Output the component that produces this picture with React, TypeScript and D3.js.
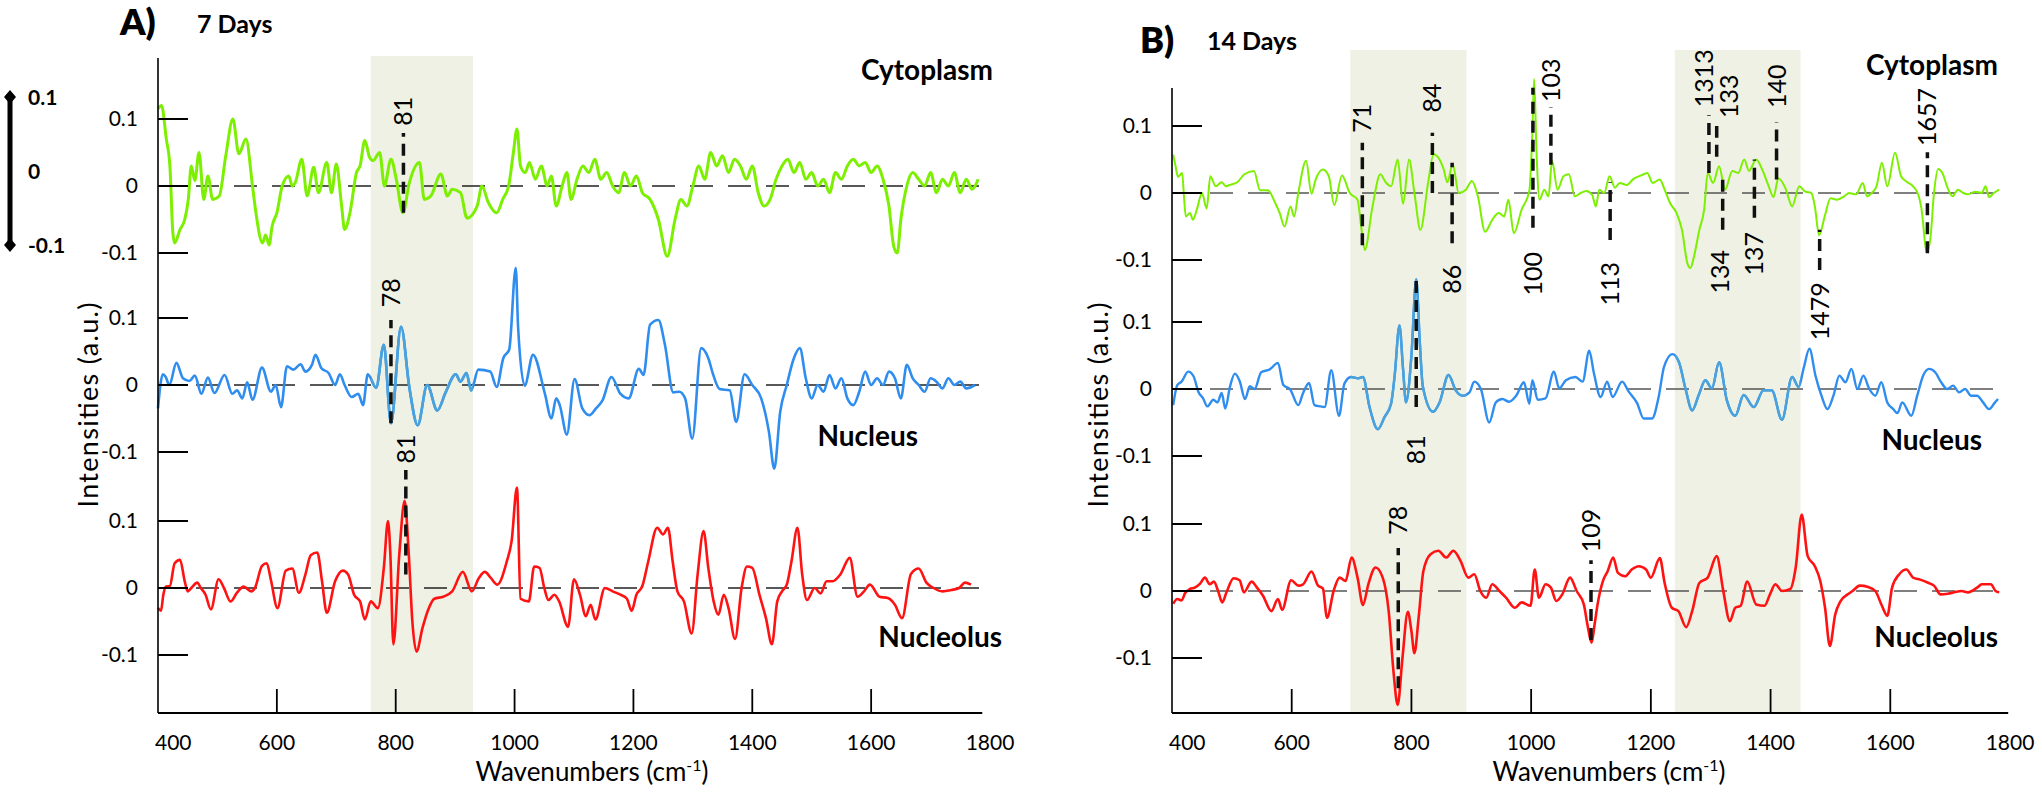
import * as d3 from "d3";

type Pt = [number, number];

// wavenumber (cm-1), intensity (a.u.)
const cytoplasm7: Pt[] = [[400,0.115],[406,0.12],[414,0.07],[420,0.03],[425,-0.07],[428,-0.085],[437,-0.065],[445,-0.05],[451,-0.02],[456,0.03],[462,0.008],[469,0.05],[477,-0.02],[484,0.015],[492,-0.02],[503,-0.015],[514,0.045],[526,0.1],[536,0.048],[548,0.07],[559,0],[564,-0.035],[576,-0.085],[581,-0.073],[587,-0.088],[592,-0.06],[600,-0.04],[609,0],[620,0.015],[626,0],[631,0.005],[642,0.04],[651,-0.015],[662,0.028],[670,-0.01],[684,0.035],[692,-0.01],[700,0.033],[709,-0.03],[714,-0.065],[723,-0.04],[734,0.02],[740,0.03],[748,0.068],[756,0.043],[762,0.038],[773,0.05],[781,0],[792,0.04],[801,0.01],[812,-0.04],[823,0.005],[840,0.035],[848,-0.02],[859,-0.015],[876,0.018],[887,-0.015],[895,-0.005],[909,-0.01],[920,-0.048],[937,-0.03],[945,0],[956,-0.025],[970,-0.04],[980,-0.02],[990,0],[998,0.05],[1004,0.085],[1010,0.03],[1018,0.02],[1025,0.035],[1035,0.01],[1045,0.03],[1055,0],[1062,0.015],[1070,-0.03],[1080,0],[1088,0.02],[1095,-0.02],[1105,0.01],[1115,0.03],[1125,0.02],[1135,0.04],[1145,0.01],[1155,0.02],[1165,0],[1175,-0.01],[1185,0.02],[1195,0],[1205,0.015],[1215,-0.01],[1228,-0.02],[1242,-0.05],[1257,-0.105],[1270,-0.05],[1280,-0.02],[1290,-0.03],[1300,0],[1310,0.03],[1320,0.01],[1330,0.05],[1340,0.03],[1350,0.045],[1360,0.02],[1370,0.04],[1380,0.03],[1390,0.01],[1400,0.03],[1410,-0.01],[1420,-0.03],[1430,-0.02],[1440,0.01],[1450,0.03],[1460,0.04],[1470,0.02],[1480,0.035],[1490,0.01],[1500,0.02],[1510,0],[1520,0.01],[1530,-0.01],[1540,0.02],[1550,0.01],[1560,0.03],[1570,0.04],[1580,0.03],[1590,0.035],[1600,0.02],[1610,0.03],[1620,0.01],[1630,-0.03],[1638,-0.09],[1644,-0.1],[1650,-0.05],[1660,0],[1670,0.02],[1680,0.01],[1690,0],[1700,0.02],[1710,-0.01],[1720,0.01],[1730,0],[1740,0.02],[1750,-0.01],[1760,0.01],[1770,-0.005],[1780,0.01]];

const nucleus7: Pt[] = [[400,-0.035],[404,0],[408,0.016],[413,0.012],[419,0],[431,0.033],[442,0.01],[453,0.006],[462,0.014],[473,-0.013],[484,0.011],[495,-0.012],[512,0.015],[525,-0.013],[533,-0.008],[542,-0.02],[550,0.004],[559,-0.022],[575,0.026],[590,-0.01],[598,0],[607,-0.033],[617,0.028],[628,0.023],[640,0.031],[648,0.02],[659,0.03],[665,0.045],[675,0.025],[687,0.018],[698,0],[706,0.016],[714,0],[726,-0.018],[737,-0.013],[745,-0.03],[753,0.016],[767,-0.004],[780,0.06],[792,-0.057],[809,0.087],[823,-0.004],[837,-0.06],[853,0],[870,-0.038],[884,-0.011],[901,0.016],[909,0.005],[919,0.018],[927,-0.008],[939,0.023],[959,0.02],[970,-0.003],[981,0.04],[991,0.053],[1002,0.175],[1006,0.085],[1017,-0.001],[1031,0.045],[1051,-0.013],[1062,-0.05],[1070,-0.02],[1076,-0.03],[1088,-0.074],[1101,0.009],[1114,-0.035],[1126,-0.045],[1137,-0.035],[1148,-0.023],[1163,0.012],[1178,-0.013],[1192,-0.02],[1209,0.024],[1217,0.015],[1228,0.09],[1242,0.097],[1253,0.06],[1267,-0.011],[1277,-0.01],[1287,-0.02],[1299,-0.08],[1314,0.055],[1326,0.04],[1334,0.016],[1345,-0.006],[1362,-0.008],[1373,-0.055],[1387,0.016],[1400,0],[1415,-0.02],[1428,-0.07],[1437,-0.125],[1447,-0.04],[1458,0],[1470,0.04],[1480,0.055],[1490,0.01],[1500,-0.02],[1510,0],[1520,-0.01],[1530,0.015],[1540,-0.005],[1550,0.01],[1560,-0.02],[1570,-0.03],[1580,-0.01],[1590,0.02],[1600,0],[1610,0.01],[1620,0],[1630,0.02],[1640,0.01],[1650,-0.02],[1660,0.03],[1670,0.01],[1680,0],[1690,-0.01],[1700,0.01],[1710,0.005],[1720,-0.005],[1730,0.01],[1740,0],[1750,0.005],[1760,-0.005],[1775,0]];

const nucleolus7: Pt[] = [[400,-0.03],[405,-0.034],[409,-0.01],[413,0.002],[420,0.003],[428,0.037],[437,0.042],[445,0.01],[450,-0.005],[456,0],[466,0.008],[472,0],[480,-0.01],[489,-0.032],[502,0.013],[511,0],[522,-0.02],[533,-0.007],[544,0.002],[557,-0.005],[563,0],[575,0.033],[583,0.037],[590,0.012],[601,-0.03],[615,0.026],[626,0.029],[637,-0.007],[648,0.02],[657,0.049],[668,0.053],[676,0.01],[684,-0.037],[698,0.01],[711,0.026],[720,0.02],[730,-0.01],[740,-0.02],[748,-0.047],[758,-0.02],[770,-0.03],[780,0.03],[787,0.1],[791,0.05],[796,-0.084],[806,0.05],[815,0.13],[822,0.05],[828,-0.05],[835,-0.095],[845,-0.06],[854,-0.034],[865,-0.016],[880,-0.013],[895,-0.005],[913,0.024],[928,-0.005],[940,0.015],[950,0.024],[960,0.015],[971,0.005],[987,0.04],[995,0.07],[1004,0.15],[1010,-0.016],[1024,-0.02],[1033,0.032],[1042,0.03],[1050,0],[1057,-0.018],[1067,-0.01],[1075,-0.02],[1090,-0.058],[1100,0.013],[1110,-0.01],[1120,-0.042],[1128,-0.025],[1136,-0.047],[1152,0],[1165,-0.005],[1178,-0.01],[1189,-0.016],[1197,-0.034],[1205,-0.01],[1215,0.003],[1225,0.04],[1240,0.09],[1250,0.08],[1258,0.09],[1266,0.04],[1274,-0.005],[1285,-0.02],[1298,-0.068],[1308,0.02],[1318,0.085],[1326,0.03],[1335,-0.02],[1343,-0.04],[1352,-0.01],[1360,-0.03],[1371,-0.076],[1382,0],[1391,0.032],[1400,0.03],[1412,-0.01],[1423,-0.045],[1433,-0.084],[1442,-0.02],[1450,-0.005],[1458,0.005],[1466,0.04],[1476,0.09],[1484,0.02],[1492,-0.018],[1505,0],[1515,-0.008],[1525,0.01],[1535,0.01],[1548,0.02],[1564,0.045],[1577,-0.013],[1588,-0.005],[1598,0.005],[1614,-0.013],[1628,-0.015],[1640,-0.025],[1652,-0.045],[1667,0.021],[1680,0.029],[1693,0.008],[1705,0],[1720,-0.005],[1735,-0.003],[1748,0],[1758,0.008],[1768,0.005]];

const cytoplasm14: Pt[] = [[402,0.057],[406,0.04],[410,0.024],[417,0.03],[420,-0.005],[423,-0.035],[430,-0.03],[435,-0.04],[442,-0.023],[450,0],[458,-0.023],[464,0.025],[473,0.01],[483,0.016],[490,0.01],[496,0.012],[509,0.016],[521,0.028],[537,0.033],[547,0.004],[560,0.004],[573,-0.016],[580,-0.03],[588,-0.05],[598,-0.02],[604,-0.035],[611,0],[624,0.048],[633,-0.001],[640,0.02],[652,0.035],[662,0.025],[671,-0.018],[684,0.026],[697,0],[710,-0.01],[716,-0.05],[722,-0.085],[735,-0.02],[748,0.028],[757,0.016],[766,0.01],[777,0.05],[786,-0.016],[796,0.05],[805,0],[815,-0.055],[828,0.016],[837,0.058],[847,0.05],[854,0.035],[860,0.016],[869,0.043],[879,0],[891,0.005],[901,0.018],[911,-0.005],[923,-0.058],[935,-0.04],[946,-0.03],[955,-0.035],[962,-0.01],[971,-0.06],[984,-0.025],[997,0.003],[1002,0.09],[1005,0.17],[1009,0.06],[1014,-0.01],[1022,0.005],[1029,-0.005],[1035,0.048],[1044,0.005],[1054,0.025],[1063,0.028],[1073,-0.005],[1083,0],[1092,0.003],[1102,-0.003],[1108,-0.02],[1114,0.005],[1122,0],[1131,0.025],[1140,0.008],[1148,0.015],[1160,0.012],[1171,0.021],[1183,0.026],[1194,0.03],[1203,0.015],[1215,0.02],[1223,0.005],[1232,-0.015],[1243,-0.03],[1252,-0.055],[1261,-0.105],[1266,-0.112],[1272,-0.095],[1281,-0.055],[1289,-0.025],[1295,0.03],[1304,0.015],[1314,0.04],[1324,0.005],[1336,0.033],[1346,0.03],[1356,0.05],[1364,0.033],[1376,0.05],[1387,0.033],[1396,0.012],[1405,-0.006],[1413,0.022],[1425,0.007],[1436,-0.02],[1448,0.01],[1458,0.002],[1468,0],[1474,-0.02],[1481,-0.063],[1491,-0.033],[1500,-0.008],[1511,-0.01],[1523,-0.005],[1531,0],[1543,-0.002],[1554,0.015],[1561,-0.005],[1569,0],[1577,0.01],[1586,0.045],[1595,0.01],[1608,0.06],[1618,0.025],[1627,0.017],[1638,0.01],[1647,-0.003],[1652,-0.023],[1661,-0.088],[1667,-0.068],[1673,0],[1680,0.036],[1687,0.03],[1696,0.007],[1704,-0.005],[1713,0.005],[1722,0],[1730,-0.002],[1742,0.002],[1753,0],[1759,0.01],[1765,-0.006],[1773,0],[1782,0.005]];

const nucleus14: Pt[] = [[402,-0.024],[409,0.006],[416,0.011],[427,0.026],[436,0.019],[444,-0.004],[452,-0.014],[459,-0.026],[469,-0.016],[476,-0.02],[483,-0.006],[489,-0.029],[497,0.004],[505,0.023],[513,0.012],[522,-0.015],[530,0.004],[538,0],[549,0.025],[563,0.029],[577,0.039],[586,0.006],[597,0],[611,-0.024],[619,-0.006],[629,0.009],[638,-0.024],[648,-0.026],[655,-0.027],[666,0.028],[679,-0.04],[688,0.008],[699,0.018],[711,0.016],[719,0.018],[730,-0.027],[744,-0.06],[755,-0.042],[766,-0.022],[772,0.02],[780,0.095],[786,0.03],[791,-0.02],[800,0.05],[808,0.164],[814,0.07],[819,0.004],[836,-0.034],[847,-0.02],[862,0.021],[874,-0.002],[886,-0.01],[897,-0.005],[905,0.011],[916,0],[930,-0.05],[941,-0.02],[952,-0.015],[963,-0.019],[975,-0.01],[988,0.01],[997,-0.022],[1002,0.013],[1011,-0.016],[1024,-0.014],[1038,0.026],[1047,0.001],[1058,0.013],[1074,0.018],[1086,0.011],[1097,0.057],[1105,0.023],[1116,-0.012],[1127,0.011],[1136,-0.012],[1152,0.011],[1163,-0.004],[1177,-0.021],[1188,-0.044],[1202,-0.044],[1213,-0.012],[1222,0.033],[1236,0.052],[1247,0.04],[1258,0],[1269,-0.032],[1280,-0.009],[1291,0.013],[1302,0.001],[1314,0.04],[1327,-0.017],[1341,-0.04],[1355,-0.009],[1372,-0.027],[1388,-0.002],[1402,-0.002],[1419,-0.046],[1436,0.018],[1447,0.003],[1455,0.03],[1465,0.06],[1475,0.02],[1485,-0.01],[1495,-0.03],[1505,-0.01],[1515,0.02],[1525,0.01],[1535,0.03],[1545,0],[1555,0.02],[1565,0],[1575,-0.01],[1585,0.01],[1595,-0.02],[1605,-0.03],[1612,-0.036],[1620,-0.02],[1635,-0.04],[1645,-0.01],[1655,0.02],[1665,0.03],[1675,0.025],[1685,0.01],[1695,0],[1705,0.005],[1715,-0.005],[1725,0],[1735,-0.01],[1745,-0.01],[1755,-0.02],[1765,-0.03],[1775,-0.02],[1780,-0.015]];

const nucleolus14: Pt[] = [[402,-0.019],[409,-0.012],[416,-0.014],[422,-0.003],[430,0.003],[438,0.005],[447,0.011],[455,0.02],[463,0.01],[470,0.014],[477,0],[484,-0.017],[491,-0.002],[503,0.019],[513,0.016],[520,-0.002],[533,0.014],[542,0.005],[552,-0.007],[566,-0.03],[577,-0.012],[584,-0.028],[599,0.016],[611,0.008],[619,0.01],[633,0.029],[644,0.008],[652,0.004],[659,-0.04],[670,0],[680,0.02],[690,0.015],[700,0.05],[710,0.02],[719,-0.021],[728,0.01],[740,0.035],[752,0.02],[762,-0.03],[770,-0.12],[777,-0.17],[785,-0.1],[794,-0.031],[800,-0.06],[805,-0.093],[812,-0.04],[820,0.03],[832,0.055],[845,0.06],[858,0.05],[870,0.06],[882,0.045],[895,0.02],[905,0.025],[915,0],[925,-0.01],[935,0.01],[947,0],[958,-0.01],[973,-0.025],[984,-0.017],[999,-0.022],[1006,0.032],[1013,-0.01],[1024,0.01],[1033,0.005],[1042,-0.015],[1052,-0.005],[1065,0.02],[1076,0],[1088,-0.02],[1094,-0.05],[1101,-0.077],[1106,-0.05],[1111,-0.02],[1120,0.015],[1128,0.03],[1137,0.05],[1145,0.027],[1157,0.022],[1168,0.032],[1180,0.037],[1192,0.032],[1200,0.02],[1215,0.049],[1223,0.012],[1235,-0.025],[1246,-0.03],[1259,-0.054],[1269,-0.03],[1281,0.012],[1295,0.02],[1310,0.052],[1321,0],[1332,-0.045],[1341,-0.025],[1350,-0.022],[1361,0.014],[1376,-0.02],[1390,-0.022],[1399,-0.005],[1408,0.01],[1419,0],[1433,0.003],[1442,0.035],[1452,0.114],[1462,0.052],[1474,0.037],[1483,0.015],[1491,-0.025],[1499,-0.082],[1508,-0.035],[1517,-0.015],[1529,-0.005],[1537,0],[1549,0.008],[1563,0.006],[1575,0],[1586,-0.022],[1595,-0.037],[1603,0.005],[1615,0.025],[1627,0.032],[1638,0.02],[1650,0.017],[1664,0.012],[1673,0.008],[1684,-0.005],[1696,-0.004],[1707,-0.002],[1719,0],[1730,-0.002],[1745,0.005],[1753,0.01],[1768,0.01],[1776,0],[1782,-0.002]];

const traceNames = ["Cytoplasm", "Nucleus", "Nucleolus"];
const xTickLabels = [400, 600, 800, 1000, 1200, 1400, 1600, 1800];
const xTickMarks = [600, 800, 1000, 1200, 1400, 1600];
const yTicks = [0.1, 0, -0.1];
const shades7: Pt[] = [[758, 930]];
const shades14: Pt[] = [[698, 892], [1240, 1450]];

// band markers: trace index, wavenumber, line from/to (intensity), label, label anchor (intensity)
interface Band {
  trace: number;
  x: number;
  from: number;
  to: number;
  label: string;
  at: number;
  side: "above" | "below";
  labelX?: number;
}

const bands7: Band[] = [
  { trace: 0, x: 813, from: -0.04, to: 0.079, label: "81", at: 0.09, side: "above" },
  { trace: 1, x: 792, from: -0.057, to: 0.097, label: "78", at: 0.116, side: "above" },
  { trace: 2, x: 817, from: 0.02, to: 0.176, label: "81", at: 0.186, side: "above" }
];

const bands14: Band[] = [
  { trace: 0, x: 718, from: -0.078, to: 0.075, label: "71", at: 0.09, side: "above" },
  { trace: 0, x: 835, from: 0, to: 0.09, label: "84", at: 0.12, side: "above" },
  { trace: 0, x: 868, from: -0.075, to: 0.045, label: "86", at: -0.107, side: "below" },
  { trace: 0, x: 1003, from: -0.052, to: 0.157, label: "100", at: -0.088, side: "below" },
  { trace: 0, x: 1033, from: 0.042, to: 0.128, label: "103", at: 0.136, side: "above" },
  { trace: 0, x: 1132, from: -0.07, to: 0.016, label: "113", at: -0.103, side: "below" },
  { trace: 0, x: 1297, from: 0.03, to: 0.116, label: "1313", at: 0.128, side: "above", labelX: 1288 },
  { trace: 0, x: 1310, from: 0.054, to: 0.1, label: "133", at: 0.112, side: "above", labelX: 1330 },
  { trace: 0, x: 1320, from: -0.055, to: 0.03, label: "134", at: -0.085, side: "below", labelX: 1315 },
  { trace: 0, x: 1373, from: -0.037, to: 0.05, label: "137", at: -0.058, side: "below" },
  { trace: 0, x: 1410, from: 0.02, to: 0.106, label: "140", at: 0.127, side: "above" },
  { trace: 0, x: 1482, from: -0.115, to: -0.055, label: "1479", at: -0.133, side: "below" },
  { trace: 0, x: 1662, from: -0.09, to: 0.061, label: "1657", at: 0.07, side: "above" },
  { trace: 1, x: 808, from: -0.027, to: 0.166, label: "81", at: -0.069, side: "below" },
  { trace: 2, x: 778, from: -0.145, to: 0.064, label: "78", at: 0.084, side: "above" },
  { trace: 2, x: 1100, from: -0.073, to: 0.046, label: "109", at: 0.058, side: "above" }
];

const FONT = "Lato, 'Open Sans', sans-serif";
const colors = ["#7cf000", "#2f8def", "#ff1212"];
const shadedBlue = "#4aa2dc";
const axisBottom = 713;
const unit = 670; // px per 1.0 intensity

interface PanelConfig {
  id: string;
  letter: string;
  title: string;
  x0: number;
  x1: number;
  axisEnd: number;
  axisTop: number;
  shadeTop: number;
  zeros: number[];
  traces: Pt[][];
  shades: Pt[];
  bands: Band[];
  nameRight: number[];
  nameBase: number[];
  letterX: number;
  letterY: number;
  titleX: number;
  titleY: number;
  yLabelX: number;
  zeroColor: string;
  widths: number[];
}

const panels: PanelConfig[] = [
  {
    id: "a", letter: "A)", title: "7 Days", x0: 158, x1: 990, axisEnd: 1787, axisTop: 58, shadeTop: 56,
    zeros: [186, 385, 588], traces: [cytoplasm7, nucleus7, nucleolus7], shades: shades7, bands: bands7,
    nameRight: [993, 918, 1002], nameBase: [80, 446, 647],
    letterX: 120, letterY: 35, titleX: 197, titleY: 33, yLabelX: 98, zeroColor: "#222", widths: [3, 2.6, 2.6]
  },
  {
    id: "b", letter: "B)", title: "14 Days", x0: 1172, x1: 2010, axisEnd: 1797, axisTop: 88, shadeTop: 50,
    zeros: [193, 389, 591], traces: [cytoplasm14, nucleus14, nucleolus14], shades: shades14, bands: bands14,
    nameRight: [1998, 1982, 1998], nameBase: [75, 450, 647],
    letterX: 1140, letterY: 53, titleX: 1207, titleY: 50, yLabelX: 1108, zeroColor: "#555", widths: [2, 2.4, 2.6]
  }
];

function Panel({ cfg }: { readonly cfg: PanelConfig }): React.JSX.Element {
  const x = d3.scaleLinear().domain([400, 1800]).range([cfg.x0, cfg.x1]);
  const ys = cfg.zeros.map((z) => d3.scaleLinear().domain([-0.1, 0.1]).range([z + unit * 0.1, z - unit * 0.1]));
  const paths = cfg.traces.map((trace, i) =>
    d3.line<Pt>().x((d) => x(d[0])).y((d) => ys[i](d[1])).curve(d3.curveMonotoneX)(trace) ?? ""
  );
  const xEnd = x(cfg.axisEnd);
  const clipId = `shade-${cfg.id}`;

  return (
    <g>
      <defs>
        <clipPath id={clipId}>
          {cfg.shades.map(([a, b]) => (
            <rect key={a} x={x(a)} y={cfg.shadeTop} width={x(b) - x(a)} height={axisBottom - cfg.shadeTop} />
          ))}
        </clipPath>
      </defs>
      {cfg.shades.map(([a, b]) => (
        <rect key={a} x={x(a)} y={cfg.shadeTop} width={x(b) - x(a)} height={axisBottom - cfg.shadeTop} fill="#eef1e3" />
      ))}
      {ys.map((y, i) => (
        <line key={`z${i}`} x1={cfg.x0} x2={cfg.x1 - 8} y1={y(0)} y2={y(0)} stroke={cfg.zeroColor} strokeWidth={1.6} strokeDasharray="23 15" />
      ))}
      {paths.map((d, i) => (
        <path key={`p${i}`} d={d} fill="none" stroke={colors[i]} strokeWidth={cfg.widths[i]} strokeLinejoin="round" />
      ))}
      <path d={paths[1]} fill="none" stroke={shadedBlue} strokeWidth={cfg.widths[1]} strokeLinejoin="round" clipPath={`url(#${clipId})`} />
      {/* axes */}
      <line x1={cfg.x0} x2={cfg.x0} y1={cfg.axisTop} y2={axisBottom} stroke="#000" strokeWidth={1.6} />
      <line x1={cfg.x0} x2={xEnd} y1={axisBottom} y2={axisBottom} stroke="#000" strokeWidth={2} />
      {xTickMarks.map((t) => (
        <line key={`xt${t}`} x1={x(t)} x2={x(t)} y1={axisBottom} y2={axisBottom - 24} stroke="#000" strokeWidth={1.8} />
      ))}
      {xTickLabels.map((t) => (
        <text
          key={`xl${t}`}
          x={t === 400 ? x(t) - 3 : x(t)}
          y={750}
          textAnchor={t === 400 ? "start" : "middle"}
          fontFamily={FONT}
          fontSize={21}
        >
          {t}
        </text>
      ))}
      {ys.map((y, i) =>
        yTicks.map((t) => (
          <g key={`yt${i}${t}`}>
            <line x1={cfg.x0} x2={cfg.x0 + 30} y1={y(t)} y2={y(t)} stroke="#000" strokeWidth={2} />
            <text x={cfg.x0 - 20} y={y(t) + 7} textAnchor="end" fontFamily={FONT} fontSize={21}>
              {t === 0 ? "0" : t > 0 ? "0.1" : "-0.1"}
            </text>
          </g>
        ))
      )}
      {/* band markers */}
      {cfg.bands.map((b, i) => {
        const y = ys[b.trace];
        const lx = x(b.labelX ?? b.x) + 9;
        const ly = y(b.at);
        return (
          <g key={`b${i}`}>
            <line x1={x(b.x)} x2={x(b.x)} y1={y(b.from)} y2={y(b.to)} stroke="#111" strokeWidth={3.5} strokeDasharray="12 7" />
            <text
              transform={`translate(${lx},${ly}) rotate(-90)`}
              textAnchor={b.side === "above" ? "start" : "end"}
              fontFamily={FONT}
              fontSize={25}
            >
              {b.label}
            </text>
          </g>
        );
      })}
      {traceNames.map((name, i) => (
        <text key={name} x={cfg.nameRight[i]} y={cfg.nameBase[i]} textAnchor="end" fontFamily={FONT} fontWeight={700} fontSize={28}>
          {name}
        </text>
      ))}
      <text x={cfg.letterX} y={cfg.letterY} fontFamily={FONT} fontWeight={800} fontSize={36}>
        {cfg.letter}
      </text>
      <text x={cfg.titleX} y={cfg.titleY} fontFamily={FONT} fontWeight={700} fontSize={25}>
        {cfg.title}
      </text>
      <text
        transform={`translate(${cfg.yLabelX},405) rotate(-90)`}
        textAnchor="middle"
        fontFamily={FONT}
        fontSize={27}
        textLength={205}
        lengthAdjust="spacing"
      >
        Intensities (a.u.)
      </text>
      <text x={(cfg.x0 + cfg.x1) / 2 + 18} y={781} textAnchor="middle" fontFamily={FONT} fontSize={26}>
        Wavenumbers (cm
        <tspan fontSize={16} dy={-10}>-1</tspan>
        <tspan dy={10}>)</tspan>
      </text>
    </g>
  );
}

function ScaleBar(): React.JSX.Element {
  const y = d3.scaleLinear().domain([-0.1, 0.1]).range([245, 97]);
  const diamond = (cy: number) => `M10,${cy - 7} L16,${cy} L10,${cy + 7} L4,${cy} Z`;
  return (
    <g>
      <line x1={10} x2={10} y1={y(0.1)} y2={y(-0.1)} stroke="#000" strokeWidth={5} />
      <path d={diamond(y(0.1))} fill="#000" />
      <path d={diamond(y(-0.1))} fill="#000" />
      {yTicks.map((t) => (
        <text key={t} x={28} y={y(t) + 8} fontFamily={FONT} fontWeight={700} fontSize={21}>
          {t === 0 ? "0" : t > 0 ? "0.1" : "-0.1"}
        </text>
      ))}
    </g>
  );
}

export default function App(): React.JSX.Element {
  return (
    <svg
      width={2042}
      height={797}
      viewBox="0 0 2042 797"
      style={{ position: "absolute", left: 0, top: 0, background: "#fff" }}
    >
      <rect width={2042} height={797} fill="#fff" />
      <ScaleBar />
      {panels.map((p) => (
        <Panel key={p.id} cfg={p} />
      ))}
    </svg>
  );
}
